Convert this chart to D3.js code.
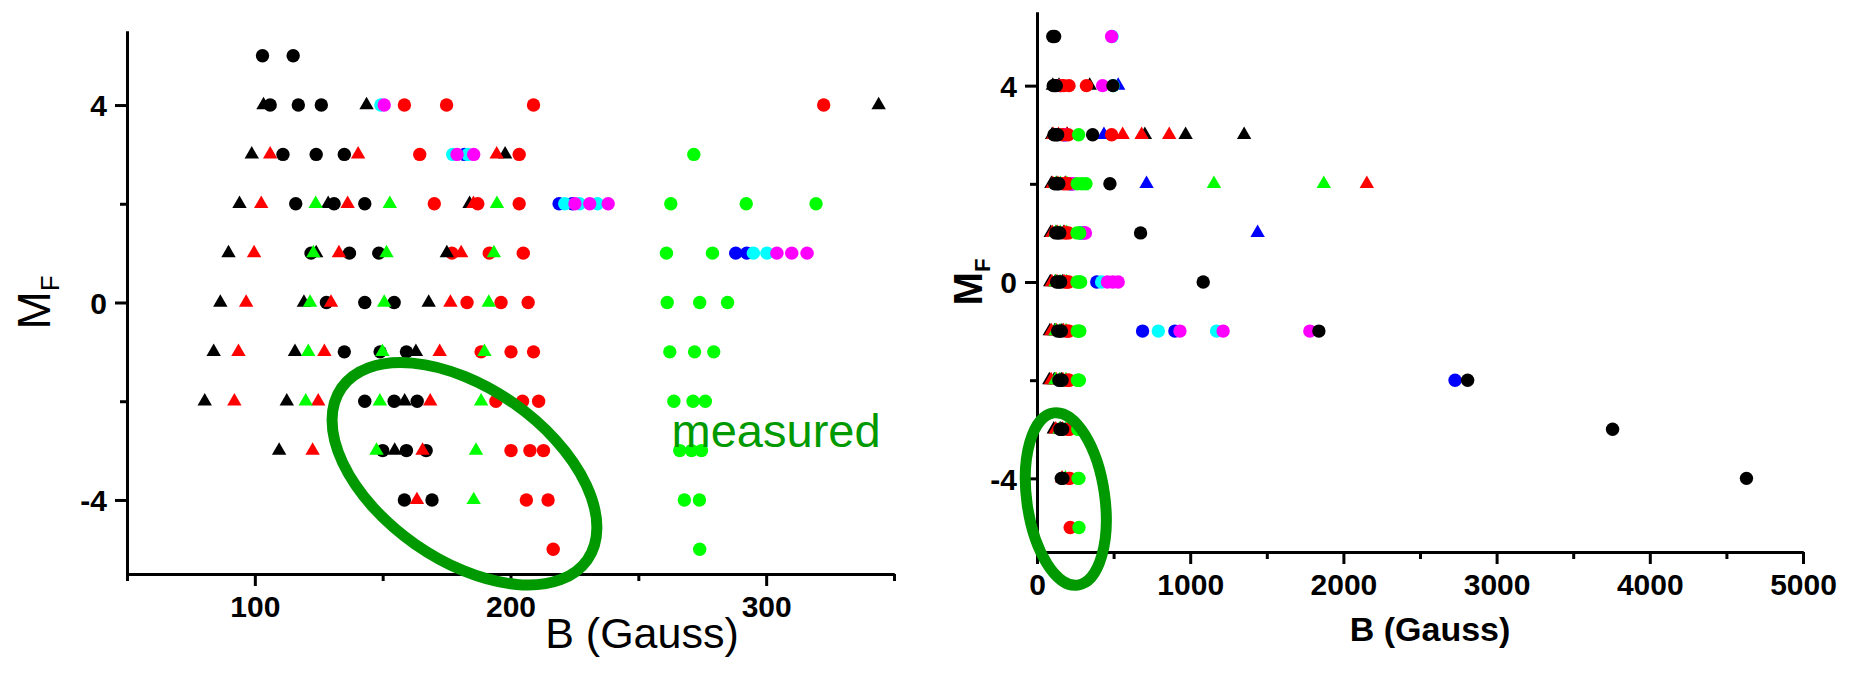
<!DOCTYPE html>
<html>
<head>
<meta charset="utf-8">
<script src="https://cdn.jsdelivr.net/npm/d3@7"></script>
<style>
  body { margin: 0; background: #fff; }
  svg { display: block; font-family: "Liberation Sans", Arial, sans-serif; }
</style>
</head>
<body>
<svg id="fig" width="1854" height="675"></svg>
<script>
// Resonance positions: [B (gauss), M_F]
const blackCircles = [
  [103, 5], [115, 5],
  [106, 4], [117, 4], [126, 4], [496, 4],
  [111, 3], [124, 3], [135, 3], [363, 3],
  [116, 2], [131, 2], [143, 2], [476, 2],
  [122, 1], [137, 1], [148.5, 1], [676, 1],
  [128, 0], [143, 0], [154.5, 0], [1085, 0],
  [135, -1], [149, -1], [159.3, -1], [1840, -1],
  [143, -2], [154.5, -2], [163.5, -2], [2811, -2],
  [150, -3], [159.3, -3], [167, -3], [3757, -3],
  [158.5, -4], [169.3, -4], [4631, -4]
];
const blackTriangles = [
  [103.4, 4], [143.7, 4], [344, 4],
  [98.8, 3], [197.9, 3], [704, 3], [970, 3], [1352, 3],
  [94, 2], [128.7, 2], [184, 2],
  [89.7, 1], [124, 1], [175.1, 1],
  [86.5, 0], [119.2, 0], [168, 0],
  [83.9, -1], [115.7, -1], [163, -1],
  [80.4, -2], [112.5, -2], [158.6, -2],
  [109.5, -3], [154.7, -3]
];
const redCircles = [
  [158.5, 4], [175, 4], [209, 4], [322.5, 4],
  [164.5, 3], [203.4, 3], [487, 3],
  [170.2, 2], [187.2, 2], [203.4, 2],
  [177.1, 1], [191.7, 1], [205, 1],
  [183, 0], [196.3, 0], [206.9, 0],
  [188.5, -1], [200.2, -1], [209, -1],
  [194.3, -2], [204.7, -2], [211, -2],
  [200.2, -3], [207.6, -3], [212.9, -3],
  [206.2, -4], [214.7, -4],
  [216.7, -5]
];
const redTriangles = [
  [106, 3], [140.4, 3], [194.6, 3], [559, 3], [683, 3], [863, 3],
  [102.5, 2], [136.3, 2], [185.5, 2], [2153, 2],
  [99.7, 1], [132.9, 1], [180.7, 1],
  [96.6, 0], [129.8, 0], [176.5, 0],
  [93.6, -1], [127.2, -1], [172.3, -1],
  [92, -2], [124.8, -2], [168.6, -2],
  [122.6, -3], [165.6, -3],
  [163.4, -4]
];
const greenCircles = [
  [271.7, 3],
  [262.7, 2], [292.2, 2], [319.5, 2],
  [261, 1], [279, 1],
  [261.3, 0], [274, 0], [284.9, 0],
  [262.3, -1], [272, -1], [279.5, -1],
  [263.9, -2], [271.4, -2], [276.2, -2],
  [266.2, -3], [270.8, -3], [274.7, -3],
  [268, -4], [273.9, -4],
  [274, -5]
];
const greenTriangles = [
  [123.8, 2], [152.8, 2], [194.7, 2], [1155, 2], [1872, 2],
  [122.9, 1], [151.5, 1], [193.5, 1],
  [121.6, 0], [150.6, 0], [191.5, 0],
  [120.9, -1], [149.9, -1], [189.8, -1],
  [119.9, -2], [148.9, -2], [188.5, -2],
  [147.6, -3], [186.5, -3],
  [185.6, -4]
];
const blueCircles = [
  [182, 3],
  [219, 2], [224.2, 2],
  [288.1, 1], [292.4, 1],
  [390, 0],
  [689, -1], [900, -1],
  [2729, -2]
];
const blueTriangles = [
  [530, 4], [437, 3], [715, 2], [1440, 1]
];
const cyanCircles = [
  [490, 5],
  [149.3, 4], [498, 4],
  [177.4, 3], [183.3, 3],
  [221.2, 2], [227, 2], [234, 2],
  [295, 1], [300.3, 1],
  [422, 0],
  [792, -1], [1172, -1]
];
const magentaCircles = [
  [487, 5],
  [150.6, 4], [428, 4],
  [179.1, 3], [185.6, 3],
  [225.2, 2], [231, 2], [238.2, 2],
  [304.2, 1], [310, 1], [316, 1],
  [460, 0], [495, 0], [530, 0],
  [933, -1], [1215, -1], [1781, -1]
];

// Axis ticks
const yMajorTicks = [-4, 0, 4];
const yMinorTicks = [-2, 2];
const xMajorTicksLow = [100, 200, 300];
const xMinorTicksLow = [50, 150, 250, 350];
const xMajorTicksHigh = [0, 1000, 2000, 3000, 4000, 5000];
const xMinorTicksHigh = [500, 1500, 2500, 3500, 4500];

const series = {
  blackCircles:   { data: blackCircles,   shape: "circle",   color: "#000000" },
  blackTriangles: { data: blackTriangles, shape: "triangle", color: "#000000" },
  redCircles:     { data: redCircles,     shape: "circle",   color: "#ff0000" },
  redTriangles:   { data: redTriangles,   shape: "triangle", color: "#ff0000" },
  greenCircles:   { data: greenCircles,   shape: "circle",   color: "#00ff00" },
  greenTriangles: { data: greenTriangles, shape: "triangle", color: "#00ff00" },
  blueCircles:    { data: blueCircles,    shape: "circle",   color: "#0000ff" },
  blueTriangles:  { data: blueTriangles,  shape: "triangle", color: "#0000ff" },
  cyanCircles:    { data: cyanCircles,    shape: "circle",   color: "#00ffff" },
  magentaCircles: { data: magentaCircles, shape: "circle",   color: "#ff00ff" }
};

const annotGreen = "#009a00";
const svg = d3.select("#fig");
const triPath = d3.symbol().type(d3.symbolTriangle).size(90)();

function drawPanel(cfg) {
  const x = d3.scaleLinear().domain(cfg.xDomain).range([cfg.left, cfg.right]);
  const y = d3.scaleLinear().domain([-5.5, 5.5]).range([cfg.bottom, cfg.top]);
  const g = svg.append("g");

  // markers
  cfg.order.forEach(key => {
    const s = series[key];
    const pts = s.data.filter(d => d[0] >= cfg.xDomain[0] && d[0] <= cfg.xDomain[1]);
    if (s.shape === "circle") {
      g.append("g").selectAll("circle").data(pts).join("circle")
        .attr("cx", d => x(d[0])).attr("cy", d => y(d[1]))
        .attr("r", 6.7).attr("fill", s.color);
    } else {
      g.append("g").selectAll("path").data(pts).join("path")
        .attr("d", triPath)
        .attr("transform", d => `translate(${x(d[0])},${y(d[1])})`)
        .attr("fill", s.color);
    }
  });

  // axes
  const styleAxis = sel => {
    sel.select(".domain").attr("stroke", "#000").attr("stroke-width", 3);
    sel.selectAll(".tick line").attr("stroke", "#000").attr("stroke-width", 3);
  };
  const fmt = d => String(d);

  const xAxisG = g.append("g").attr("transform", `translate(0,${cfg.bottom})`);
  xAxisG.append("g")
    .call(d3.axisBottom(x).tickValues(cfg.xMinor).tickSize(7).tickSizeOuter(0).tickFormat(""))
    .call(styleAxis);
  const xMaj = xAxisG.append("g")
    .call(d3.axisBottom(x).tickValues(cfg.xMajor).tickSize(12).tickSizeOuter(0).tickFormat(fmt))
    .call(styleAxis);
  xMaj.selectAll("text").attr("y", 43).attr("dy", null)
    .attr("font-size", 30).attr("font-weight", "bold").attr("fill", "#000")
    .attr("font-family", "Liberation Sans, Arial, sans-serif");

  const yAxisG = g.append("g").attr("transform", `translate(${cfg.left},0)`);
  yAxisG.append("g")
    .call(d3.axisLeft(y).tickValues(yMinorTicks).tickSize(7).tickSizeOuter(0).tickFormat(""))
    .call(styleAxis);
  const yMaj = yAxisG.append("g")
    .call(d3.axisLeft(y).tickValues(yMajorTicks).tickSize(12).tickSizeOuter(0).tickFormat(fmt))
    .call(styleAxis);
  yMaj.selectAll("text").attr("x", -20).attr("dy", "0.36em")
    .attr("font-size", 30).attr("font-weight", "bold").attr("fill", "#000")
    .attr("font-family", "Liberation Sans, Arial, sans-serif");

  // axis titles
  g.append("text")
    .attr("x", cfg.xTitleX).attr("y", cfg.bottom + cfg.xTitleGap)
    .attr("text-anchor", "middle")
    .attr("font-size", cfg.xTitleSize).attr("font-weight", cfg.titleWeight)
    .text("B (Gauss)");

  const yt = g.append("text")
    .attr("transform", `translate(${cfg.yTitleX},${(cfg.top + cfg.bottom) / 2}) rotate(-90)`)
    .attr("text-anchor", "middle")
    .attr("font-size", cfg.yTitleSize).attr("font-weight", cfg.titleWeight);
  yt.append("tspan").text("M");
  yt.append("tspan").attr("font-size", cfg.yTitleSize * 0.55).attr("dy", "0.35em").text("F");

  // highlighted region
  const [cb, cm] = cfg.ellipse.center;
  g.append("ellipse")
    .attr("cx", x(cb)).attr("cy", y(cm))
    .attr("rx", cfg.ellipse.rx).attr("ry", cfg.ellipse.ry)
    .attr("transform", `rotate(${cfg.ellipse.angle},${x(cb)},${y(cm)})`)
    .attr("fill", "none").attr("stroke", annotGreen).attr("stroke-width", 11);

  return { g, x, y };
}

const low = drawPanel({
  xDomain: [50, 350], left: 127, right: 894, top: 31, bottom: 574,
  xMajor: xMajorTicksLow, xMinor: xMinorTicksLow,
  order: ["blueCircles", "cyanCircles", "magentaCircles", "redCircles", "greenCircles",
          "blackCircles", "blackTriangles", "redTriangles", "greenTriangles", "blueTriangles"],
  xTitleSize: 43, yTitleSize: 46, titleWeight: "normal",
  xTitleX: 642, xTitleGap: 74, yTitleX: 50,
  ellipse: { center: [182, -3.47], rx: 150, ry: 86, angle: 35 }
});

low.g.append("text")
  .attr("x", low.x(263)).attr("y", low.y(-2.92))
  .attr("font-size", 47).attr("fill", annotGreen)
  .text("measured");

drawPanel({
  xDomain: [0, 5000], left: 1037, right: 1803, top: 12, bottom: 552,
  xMajor: xMajorTicksHigh, xMinor: xMinorTicksHigh,
  order: ["blackTriangles", "redTriangles", "greenTriangles", "blueTriangles",
          "blueCircles", "cyanCircles", "magentaCircles", "redCircles", "greenCircles",
          "blackCircles"],
  xTitleSize: 34, yTitleSize: 40, titleWeight: "bold",
  xTitleX: 1430, xTitleGap: 89, yTitleX: 982,
  ellipse: { center: [188, -4.42], rx: 39, ry: 87, angle: -8 }
});
</script>
</body>
</html>
